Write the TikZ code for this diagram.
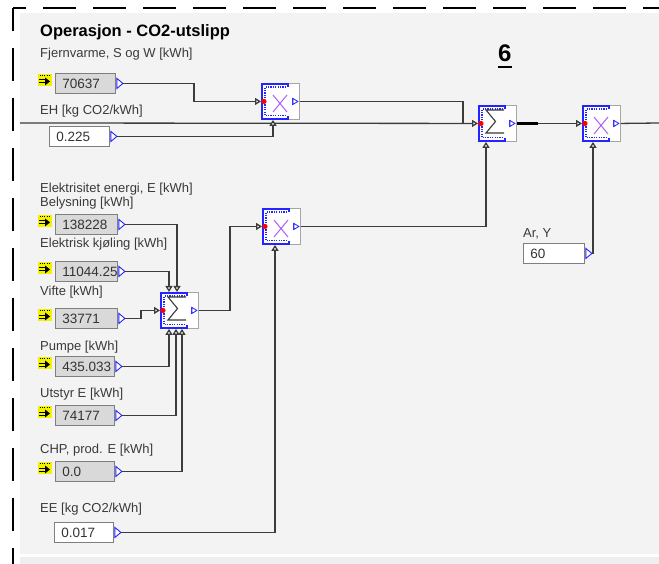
\documentclass[tikz,border=0pt]{standalone}
\usepackage{fontspec}
\setmainfont{Liberation Sans}
\usetikzlibrary{calc,arrows.meta}
\definecolor{panelc}{HTML}{F3F3F3}
\definecolor{stripc}{HTML}{EEEEEE}
\definecolor{boxgray}{HTML}{D9D9D9}
\definecolor{boxedge}{HTML}{7F7F7F}
\definecolor{blkedge}{HTML}{A6A6A6}
\definecolor{wirec}{HTML}{3C3C3C}
\definecolor{labelc}{HTML}{3A3A3A}
\definecolor{numc}{HTML}{333333}
\definecolor{blueC}{HTML}{2424FF}
\definecolor{violetc}{HTML}{B060F0}
\definecolor{sigc}{HTML}{3A3A3A}
\definecolor{iconyel}{HTML}{F2F200}

\newcommand\oport[2]{%
  \draw[blueC, line width=0.9, fill=white] ($(#2.east)+(1,-5)$) -- ++(6,5) -- ++(-6,5) -- cycle;
  \coordinate (#1) at ($(#2.east)+(7,0)$);}
\newcommand\icon[1]{%
  \fill[iconyel] ($(#1.west)+(-17,-9)$) rectangle ($(#1.west)+(-3,3)$);
  \draw[black, line width=0.8, dash pattern=on 1 off 1.2] ($(#1.west)+(-15,-8)$) -- ($(#1.west)+(-5,-8)$);
  \draw[black, line width=0.9] ($(#1.west)+(-16,-3.5)$) -- ($(#1.west)+(-9,-3.5)$) ($(#1.west)+(-16,-0.5)$) -- ($(#1.west)+(-9,-0.5)$);
  \fill[black] ($(#1.west)+(-10,-6)$) -- ($(#1.west)+(-5,-2)$) -- ($(#1.west)+(-10,2)$) -- cycle;}
\newcommand\bdeco[1]{%
  \draw[blueC, line width=1.8] ($(#1.north west)+(27,4)$) -- ($(#1.north west)+(27,1)$) -- ($(#1.north west)+(1,1)$) -- ($(#1.south west)+(1,-1)$) -- ($(#1.south west)+(27,-1)$) -- ($(#1.south west)+(27,-4)$);
  \draw[blueC, line width=1.1, dash pattern=on 1.2 off 1.2] ($(#1.north west)+(25,4)$) -- ($(#1.north west)+(4,4)$) -- ($(#1.south west)+(4,-4)$) -- ($(#1.south west)+(25,-4)$);
  \fill[red] ($(#1.west)+(3,0)$) circle (2.6);
  \draw[blueC, line width=0.8] ($(#1.east)+(-8,-3.5)$) -- ++(0,7);
  \draw[blueC, line width=0.8, fill=white] ($(#1.east)+(-7,-3)$) -- ++(5,3) -- ++(-5,3) -- cycle;}
\newcommand\mulsym[1]{%
  \draw[violetc, line width=1] ($(#1.north west)+(12,12)$) -- ++(14,17) ($(#1.north west)+(26,12)$) -- ++(-14,17);}
\newcommand\sumsym[1]{%
  \draw[sigc, line width=1.1] ($(#1.north west)+(26,5)$) -- ++(-18,0) -- ++(9.5,11.5) -- ++(-9.5,11.5) -- ++(18,0);}

\begin{document}
\begin{tikzpicture}[x=1pt,y=-1pt,
  lbl/.style={anchor=base west, inner sep=0, font=\fontsize{13}{15}\selectfont, text=labelc},
  valbox/.style={draw=boxedge, line width=0.9, fill=boxgray, minimum height=20, anchor=north west, inner xsep=7, inner ysep=0, align=left, font=\fontsize{13.5}{15}\selectfont, text=numc},
  whitebox/.style={valbox, fill=white},
  blk/.style={draw=blkedge, line width=0.9, fill=white, minimum width=38, minimum height=36, inner sep=0, anchor=north west},
  wire/.style={draw=wirec, line width=1.3},
  inarr/.style={-{Triangle[open, length=6, width=7, fill=white]}},
]
\useasboundingbox (0,0) rectangle (659,564);
% background
\fill[white] (0,0) rectangle (659,564);
\fill[panelc] (20,13) rectangle (659,554);
\fill[stripc] (20,557) rectangle (659,564);
\draw[black, line width=2.5, dash pattern=on 33 off 17, dash phase=10] (13,8) -- (13,564);
\draw[black, line width=2.5, dash pattern=on 33 off 17, dash phase=20] (13,8) -- (659,8);

% texts
\node[anchor=base west, inner sep=0, font=\bfseries\fontsize{16.5}{18}\selectfont] (title) at (40,37) {Operasjon - CO2-utslipp};
\node[anchor=base west, inner sep=0, font=\bfseries\fontsize{24}{26}\selectfont] (six) at (498,62) {6};
\draw[line width=1.6] ($(six.base west)+(0,5)$) -- ($(six.base east)+(0,5)$);
\node[lbl] (tFj) at (40,58) {Fjernvarme, S og W [kWh]};
\node[lbl] (tEH) at (40,115) {EH [kg CO2/kWh]};
\node[lbl] (tEl) at (40,193) {Elektrisitet energi, E [kWh]};
\node[lbl] (tBe) at (40,207) {Belysning [kWh]};
\node[lbl] (tKj) at (40,248) {Elektrisk kjøling [kWh]};
\node[lbl] (tVi) at (40,295) {Vifte [kWh]};
\node[lbl] (tPu) at (40,350) {Pumpe [kWh]};
\node[lbl] (tUt) at (40,397) {Utstyr E [kWh]};
\node[lbl] (tCH) at (40,453) {CHP, prod. E [kWh]};
\node[lbl] (tEE) at (40,512) {EE [kg CO2/kWh]};
\node[lbl] (tAr) at (523,238) {Ar, Y};

% value boxes
\node[valbox, text width=46] (v1) at (55,73) {70637};
\node[whitebox, text width=46] (v2) at (49,126) {0.225};
\node[valbox, text width=48] (v3) at (55,214) {138228};
\node[valbox, text width=48] (v4) at (55,261) {11044.25};
\node[valbox, text width=48] (v5) at (55,308) {33771};
\node[valbox, text width=45] (v6) at (55,356) {435.033};
\node[valbox, text width=45] (v7) at (55,405) {74177};
\node[valbox, text width=45] (v8) at (55,461) {0.0};
\node[whitebox, text width=45] (v9) at (54,522) {0.017};
\node[whitebox, text width=47] (v10) at (523,243) {60};
\foreach \n in {v1,v3,v4,v5,v6,v7,v8} {\icon{\n}}
\oport{p1}{v1} \oport{p2}{v2} \oport{p3}{v3} \oport{p4}{v4} \oport{p5}{v5}
\oport{p6}{v6} \oport{p7}{v7} \oport{p8}{v8} \oport{p9}{v9} \oport{p10}{v10}

% blocks
\node[blk] (B1) at (261,83) {};
\node[blk] (B2) at (262,208) {};
\node[blk] (S1) at (478,105) {};
\node[blk] (M3) at (582,105) {};
\node[blk] (S2) at (160,292) {};

\coordinate (Lstart) at (20,123);
\coordinate (Lend) at (659,123);
\coordinate (jn1) at (463,123);

% connectors
\draw[wire, inarr] (Lstart) -- (S1.west);
\draw[wire, inarr] (S1.east) -- (M3.west);
\draw[wire] (M3.east) -- (Lend);
\draw[draw=black, line width=2.2] (S1.east) -- ++(21,0);
\draw[wire, inarr] (p1) -- ++(71,0) |- (B1.west);
\draw[wire, inarr] (p2) -| ($(B1.south west)+(12,0)$);
\draw[wire] (B1.east) -| (jn1);
\draw[wire, inarr] (B2.east) -| ($(S1.south west)+(8,0)$);
\draw[wire, inarr] (S2.east) -- ++(31,0) |- (B2.west);
\draw[wire, inarr] (p3) -| ($(S2.north west)+(17,0)$);
\draw[wire, inarr] (p4) -| ($(S2.north west)+(9,0)$);
\draw[wire, inarr] (p5) -- ++(16,0) |- (S2.west);
\draw[wire, inarr] (p6) -| ($(S2.south west)+(9,0)$);
\draw[wire, inarr] (p7) -| ($(S2.south west)+(16,0)$);
\draw[wire, inarr] (p8) -| ($(S2.south west)+(22,0)$);
\draw[wire, inarr] (p9) -| ($(B2.south west)+(13,0)$);
\draw[wire, inarr] (p10) -| ($(M3.south west)+(11,0)$);

% block decorations
\bdeco{B1} \bdeco{B2} \bdeco{S1} \bdeco{M3} \bdeco{S2}
\mulsym{B1} \mulsym{B2} \mulsym{M3}
\sumsym{S1} \sumsym{S2}
\end{tikzpicture}
\end{document}
